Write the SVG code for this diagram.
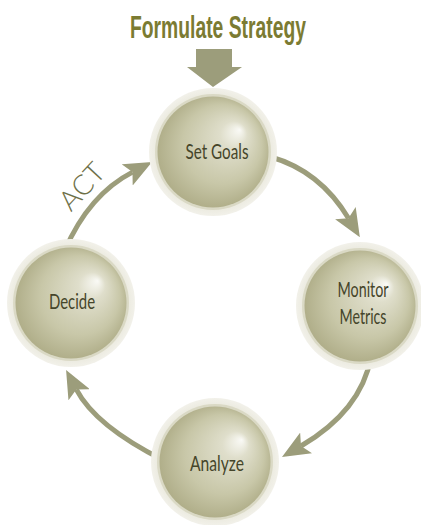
<svg xmlns="http://www.w3.org/2000/svg" width="421" height="525" viewBox="0 0 421 525">
  <style>
    .title { font-family: "Liberation Sans", Arial, sans-serif; font-weight: bold; font-size: 31px; fill: #7b7b32; }
    .label { font-family: "Lato", "Liberation Sans", sans-serif; font-weight: 400; font-size: 22px; fill: #45452a; }
    .act { font-family: "Lato", "Liberation Sans", sans-serif; font-weight: 300; font-size: 28px; fill: #6e7048; }
    .halo { fill: url(#haloGrad); }
    .band { fill: #dad9c5; }
    .sphere { fill: url(#sphereGrad); }
    .conn { fill: none; stroke: #9c9d7b; stroke-width: 5; stroke-linecap: butt; }
  </style>
  <defs>
    <radialGradient id="haloGrad" cx="0.5" cy="0.5" r="0.5">
      <stop offset="0.8" stop-color="#e6e5d7"/>
      <stop offset="1" stop-color="#f2f1ea"/>
    </radialGradient>
    <radialGradient id="sphereGrad" cx="0.5" cy="0.5" r="0.55" fx="0.74" fy="0.3">
      <stop offset="0" stop-color="#fafaf6"/>
      <stop offset="0.22" stop-color="#dfdecb"/>
      <stop offset="0.65" stop-color="#c8c7a8"/>
      <stop offset="1" stop-color="#aba983"/>
    </radialGradient>
    <marker id="arrow" markerUnits="userSpaceOnUse" markerWidth="28" markerHeight="24" viewBox="0 0 28 24" refX="6" refY="12" orient="auto">
      <path d="M0,0 L28,12 L0,24 L6,12 Z" fill="#9c9d7b"/>
    </marker>
  </defs>

  <g id="title">
    <text class="title" x="130" y="38" textLength="176" lengthAdjust="spacingAndGlyphs">Formulate Strategy</text>
    <polygon points="196,49 232,49 232,67 242,67 213,87 187,67 196,67" fill="#9c9d7b"/>
  </g>

  <g id="connectors">
    <path class="conn" d="M271,157 Q320,171 348.5,218.3" marker-end="url(#arrow)"/>
    <path class="conn" d="M371,357 Q361,411 301,446" marker-end="url(#arrow)"/>
    <path class="conn" d="M163,460 Q95.5,426 76.3,389.4" marker-end="url(#arrow)"/>
    <path class="conn" d="M65,250 Q89,194.6 132.5,172.1" marker-end="url(#arrow)"/>
  </g>

  <g id="act">
    <text class="act" x="0" y="0" text-anchor="middle" transform="translate(89,193) rotate(-47)">ACT</text>
  </g>

  <g id="set-goals">
    <circle class="halo" cx="213" cy="152" r="64"/>
    <circle class="band" cx="213" cy="152" r="58"/>
    <circle class="sphere" cx="213" cy="152" r="55.5"/>
    <text class="label" x="217" y="159" text-anchor="middle" textLength="63" lengthAdjust="spacingAndGlyphs">Set Goals</text>
  </g>

  <g id="monitor-metrics">
    <circle class="halo" cx="360" cy="306" r="64"/>
    <circle class="band" cx="360" cy="306" r="58"/>
    <circle class="sphere" cx="360" cy="306" r="55.5"/>
    <text class="label" x="363" y="297" text-anchor="middle" textLength="51" lengthAdjust="spacingAndGlyphs">Monitor</text>
    <text class="label" x="363" y="324" text-anchor="middle" textLength="47" lengthAdjust="spacingAndGlyphs">Metrics</text>
  </g>

  <g id="analyze">
    <circle class="halo" cx="215" cy="462" r="64"/>
    <circle class="band" cx="215" cy="462" r="58"/>
    <circle class="sphere" cx="215" cy="462" r="55.5"/>
    <text class="label" x="217" y="471" text-anchor="middle" textLength="54" lengthAdjust="spacingAndGlyphs">Analyze</text>
  </g>

  <g id="decide">
    <circle class="halo" cx="71" cy="303" r="64"/>
    <circle class="band" cx="71" cy="303" r="58"/>
    <circle class="sphere" cx="71" cy="303" r="55.5"/>
    <text class="label" x="72" y="309" text-anchor="middle" textLength="46" lengthAdjust="spacingAndGlyphs">Decide</text>
  </g>
</svg>
